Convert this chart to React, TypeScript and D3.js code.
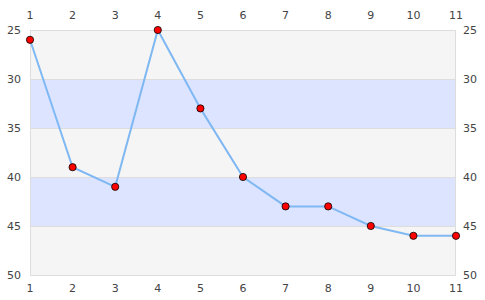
import React from "react";
import * as d3 from "d3";

const xs = [1, 2, 3, 4, 5, 6, 7, 8, 9, 10, 11];
const values = [26, 39, 41, 25, 33, 40, 43, 43, 45, 46, 46];
const yTicks = [25, 30, 35, 40, 45, 50];
const bands = [
  { from: 25, to: 30, fill: "#f5f5f5" },
  { from: 30, to: 35, fill: "#dde4ff" },
  { from: 35, to: 40, fill: "#f5f5f5" },
  { from: 40, to: 45, fill: "#dde4ff" },
  { from: 45, to: 50, fill: "#f5f5f5" },
];

export default function App() {
  const W = 485, H = 300;
  const left = 30, right = 456, top = 30, bottom = 275;
  const x = d3.scaleLinear().domain([1, 11]).range([left, right]);
  const y = d3.scaleLinear().domain([25, 50]).range([top, bottom]);
  const line = d3.line<number>().x((_, i) => x(xs[i])).y((d) => y(d));
  const font = "DejaVu Sans, sans-serif";
  return (
    <svg width={W} height={H} style={{ position: "absolute", left: 0, top: 0 }}>
      {bands.map((b, i) => (
        <rect key={i} x={left} y={y(b.from)} width={right - left} height={y(b.to) - y(b.from)} fill={b.fill} />
      ))}
      {yTicks.map((t) => (
        <line key={t} x1={left} x2={right} y1={y(t) + 0.5} y2={y(t) + 0.5} stroke="#dddddd" />
      ))}
      <rect x={left + 0.5} y={top + 0.5} width={right - left - 1} height={bottom - top} fill="none" stroke="#dddddd" />
      <path d={line(values) || ""} fill="none" stroke="#7fb8f2" strokeWidth={2} />
      {values.map((v, i) => (
        <circle key={i} cx={x(xs[i])} cy={y(v)} r={3.6} fill="#ff0000" stroke="#000" strokeWidth={0.8} />
      ))}
      {xs.map((t) => (
        <g key={t} fontFamily={font} fontSize={11} fill="#444" textAnchor="middle">
          <text x={x(t)} y={15} dy="0.35em">{t}</text>
          <text x={x(t)} y={288} dy="0.35em">{t}</text>
        </g>
      ))}
      {yTicks.map((t) => (
        <g key={t} fontFamily={font} fontSize={11} fill="#444">
          <text x={21} y={y(t)} dy="0.35em" textAnchor="end">{t}</text>
          <text x={463} y={y(t)} dy="0.35em" textAnchor="start">{t}</text>
        </g>
      ))}
    </svg>
  );
}
